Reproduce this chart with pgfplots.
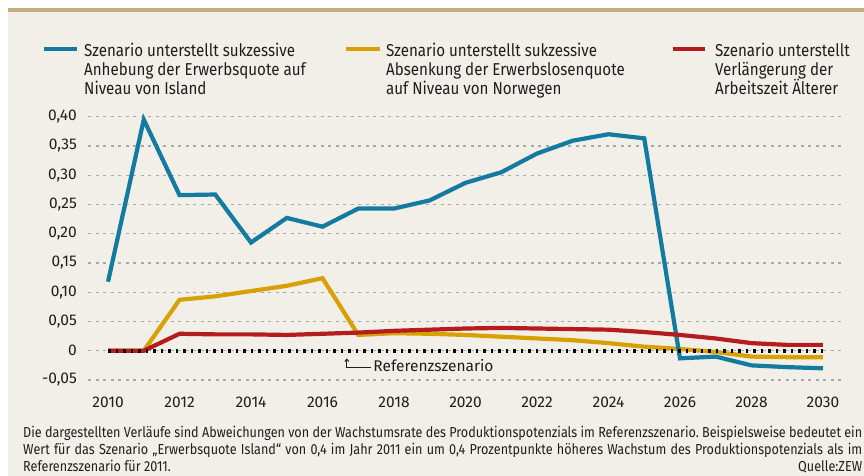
\documentclass[border=0pt]{standalone}
\usepackage{fontspec}
\setmainfont{Fira Sans}
\newfontfamily\condfont{Fira Sans}[FakeStretch=0.88]
\newfontfamily\footcond{Fira Sans}[FakeStretch=0.87]
\usepackage{pgfplots}
\pgfplotsset{compat=1.18}
\usepackage{pgfplotstable}
\usetikzlibrary{arrows.meta}
\frenchspacing

\definecolor{bg}{HTML}{F2EFE9}
\definecolor{band}{HTML}{C2B084}
\definecolor{zewblue}{HTML}{137AA0}
\definecolor{zewyellow}{HTML}{D9A100}
\definecolor{zewred}{HTML}{B51C1E}
\definecolor{gridgray}{HTML}{A8A8A8}
\definecolor{txt}{HTML}{1E1E1E}

\newcommand\ticfont{\fontsize{15.5bp}{18bp}\selectfont}
\newcommand\legfont{\condfont\fontsize{17.2bp}{19bp}\selectfont}
\newcommand\footfont{\footcond\fontsize{14.5bp}{17bp}\selectfont}

% year, island, norwegen, arbeitszeit
\pgfplotstableread{
year island norwegen arbeitszeit
2010 0.118 0.000 0.000
2011 0.395 0.000 0.000
2012 0.266 0.087 0.029
2013 0.267 0.093 0.028
2014 0.185 0.102 0.028
2015 0.227 0.111 0.027
2016 0.212 0.124 0.029
2017 0.243 0.027 0.031
2018 0.243 0.030 0.034
2019 0.257 0.029 0.036
2020 0.287 0.027 0.038
2021 0.305 0.024 0.039
2022 0.337 0.021 0.038
2023 0.359 0.018 0.037
2024 0.370 0.013 0.036
2025 0.363 0.007 0.032
2026 -0.013 0.003 0.027
2027 -0.010 -0.002 0.021
2028 -0.025 -0.010 0.013
2029 -0.028 -0.011 0.010
2030 -0.030 -0.011 0.010
}\szen

\begin{document}
\begin{tikzpicture}
\fill[white] (0bp,0bp) rectangle (864bp,476bp);
\fill[bg] (8bp,0bp) rectangle (864bp,464bp);
\fill[band] (8bp,463.7bp) rectangle (864bp,467.7bp);

\begin{axis}[
  at={(88bp,96bp)}, anchor=south west,
  scale only axis, width=755bp, height=263.3bp,
  xmin=2009.44, xmax=2030.56, ymin=-0.05, ymax=0.40,
  axis line style={draw=none}, tick style={draw=none},
  clip=false,
  ymajorgrids, grid style={gridgray, line width=1.2bp, dash pattern=on 3bp off 4.5bp},
  ytick={-0.05,0,0.05,0.10,0.15,0.20,0.25,0.30,0.35,0.40},
  yticklabels={{-0,05},{0},{0,05},{0,10},{0,15},{0,20},{0,25},{0,30},{0,35},{0,40}},
  xtick={2010,2012,2014,2016,2018,2020,2022,2024,2026,2028,2030},
  xticklabels={2010,2012,2014,2016,2018,2020,2022,2024,2026,2028,2030},
  yticklabel style={font=\ticfont, text=txt, inner sep=0pt, anchor=east, xshift=-11bp},
  xticklabel style={font=\ticfont, text=txt, inner sep=0pt, anchor=north, yshift=-17bp},
  every axis plot/.append style={line width=4.2bp, line join=miter},
]
\addplot[zewyellow] table[x=year, y=norwegen] {\szen};
\addplot[zewblue] table[x=year, y=island] {\szen};
\addplot[zewred] table[x=year, y=arbeitszeit] {\szen};
\addplot[black, line width=4bp, dash pattern=on 2.5bp off 5bp] coordinates {(2010,0) (2030,0)};

\draw[txt, line width=0.9bp, -{Straight Barb[length=2.5bp,width=4bp]}]
  (axis cs:2017.37,-0.029) -- (axis cs:2016.68,-0.029) -- (axis cs:2016.68,-0.013);
\node[anchor=base west, inner sep=0pt, font=\ticfont, text=txt] at (axis cs:2017.42,-0.0359) {Referenzszenario};
\end{axis}

% legend
\draw[zewblue, line width=4.5bp] (44bp,427bp) -- (77bp,427bp);
\draw[zewyellow, line width=4.5bp] (346bp,427bp) -- (380bp,427bp);
\draw[zewred, line width=4.5bp] (673bp,427bp) -- (705bp,427bp);
\begin{scope}[every node/.style={anchor=base west, inner sep=0pt, font=\legfont, text=txt}]
\node at (84bp,419bp) {Szenario unterstellt sukzessive};
\node at (84bp,400bp) {Anhebung der Erwerbsquote auf};
\node at (84bp,381bp) {Niveau von Island};
\node at (386bp,419bp) {Szenario unterstellt sukzessive};
\node at (386bp,400bp) {Absenkung der Erwerbslosenquote};
\node at (386bp,381bp) {auf Niveau von Norwegen};
\node at (715bp,419bp) {Szenario unterstellt};
\node at (715bp,400bp) {Verlängerung der};
\node at (715bp,381bp) {Arbeitszeit Älterer};
\end{scope}

% footnote
\begin{scope}[every node/.style={anchor=base west, inner sep=0pt, font=\footfont, text=txt}]
\node at (23bp,38.5bp) {\makebox[839bp][s]{Die dargestellten Verläufe sind Abweichungen von der Wachstumsrate des Produktionspotenzials im Referenzszenario. Beispielsweise bedeutet ein}};
\node at (23bp,21.5bp) {\makebox[839bp][s]{Wert für das Szenario „Erwerbsquote Island“ von 0,4 im Jahr 2011 ein um 0,4 Prozentpunkte höheres Wachstum des Produktionspotenzials als im}};
\node at (23bp,5bp) {\makebox[839bp][s]{Referenzszenario für 2011.\hfill Quelle:ZEW}};
\end{scope}
\end{tikzpicture}
\end{document}
